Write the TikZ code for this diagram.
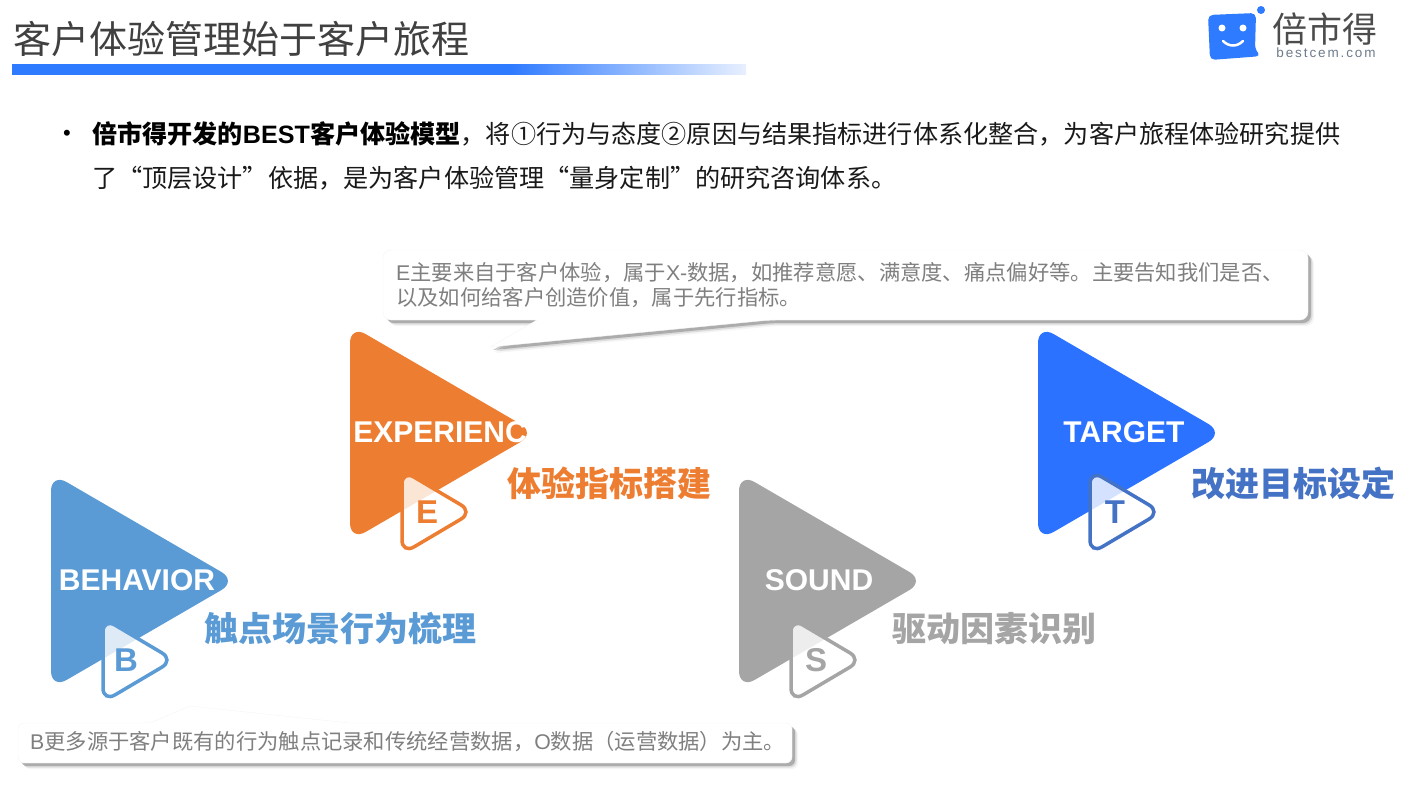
\documentclass[tikz,border=0pt]{standalone}
\usepackage{fontspec}
\usetikzlibrary{shadows}
\setmainfont{Liberation Sans}
\newfontfamily\cjk{Noto Sans CJK SC}
\newfontfamily\latn{Liberation Sans}
\newfontfamily\dotcom[LetterSpace=14]{Liberation Sans}
\definecolor{barblue}{HTML}{2F7BFF}
\definecolor{barpale}{HTML}{E8F0FF}
\definecolor{behavior}{HTML}{5B9BD5}
\definecolor{experience}{HTML}{ED7D31}
\definecolor{sound}{HTML}{A5A5A5}
\definecolor{target}{HTML}{2A72FF}
\definecolor{targetdark}{HTML}{4472C4}
\definecolor{note}{HTML}{7F7F7F}
\definecolor{logogray}{HTML}{6E7B8B}
\pgfdeclarehorizontalshading{barfade}{100bp}{color(0bp)=(barblue); color(59bp)=(barblue); color(75bp)=(barpale); color(100bp)=(barpale)}
\tikzset{
	title/.style={anchor=base west, inner sep=0, text=black!75, font=\fontsize{38}{38}\selectfont\cjk},
	body/.style={anchor=base west, inner sep=0, text=black!90, font=\fontsize{25.13}{30}\selectfont\cjk},
	notetext/.style={anchor=base west, inner sep=0, text=note, font=\fontsize{21.3}{25}\selectfont\cjk},
	callout/.style={fill=white, draw=black!4,
		drop shadow={shadow xshift=6pt, shadow yshift=-6pt, fill=black, opacity=.04},
		drop shadow={shadow xshift=4.5pt, shadow yshift=-4.5pt, fill=black, opacity=.10},
		drop shadow={shadow xshift=3pt, shadow yshift=-3pt, fill=black, opacity=.22}},
	word/.style={inner sep=0, text=white, font=\fontsize{30}{30}\selectfont\latn\bfseries},
	letter/.style={inner sep=0, font=\fontsize{33}{33}\selectfont\latn\bfseries},
	label/.style={anchor=base west, inner sep=0, font=\fontsize{34}{34}\selectfont\cjk\bfseries}
}
\begin{document}
\begin{tikzpicture}[x=1pt,y=-1pt]
\useasboundingbox (0,0) rectangle (1402,788);
% header
\node[title] (heading) at (13,53) {客户体验管理始于客户旅程};
\shade[shading=barfade] (12,64) rectangle (746,74);
% logo
\fill[barblue, rounded corners=5] (1208,15) -- (1256,13) -- (1255,50) -- (1261,56) -- (1250,57) -- (1210,60) -- cycle;
\fill[barblue] (1261,10) circle (4);
\fill[white] (1222,28) circle (3.5) (1243,28) circle (3.5);
\draw[white, line width=2.5, line cap=round] (1223,41) .. controls (1229,47) and (1237,47) .. (1243,41);
\node[inner sep=0, text=black!70, font=\fontsize{35}{35}\selectfont\cjk] (logoname) at (1324.5,29) {倍市得};
\node[inner sep=0, text=logogray, font=\fontsize{13.5}{13.5}\selectfont\dotcom] (logoweb) at (1326,53) {bestcem.com};
% bullet text
\node[inner sep=0, font=\fontsize{22}{30}\selectfont\latn] (dot) at (67,135.5) {•};
\node[body] (lineone) at (92,143.5) {{\bfseries\textcolor{black}{倍市得开发的{\latn BEST}客户体验模型}}，将①行为与态度②原因与结果指标进行体系化整合，为客户旅程体验研究提供};
\node[body] (linetwo) at (92,187.5) {了“顶层设计”依据，是为客户体验管理“量身定制”的研究咨询体系。};
% callouts
\path[callout, rounded corners=8] (383,250) -- (1308,250) -- (1308,320) -- (770,320) [sharp corners] -- (490,347) -- (537,320) [rounded corners=8] -- (383,320) -- cycle;
\path[callout, rounded corners=6] (18,723) -- (150,723) [sharp corners] -- (190,706) -- (350,723) [rounded corners=6] -- (792,723) -- (792,763) -- (18,763) -- cycle;
\node[notetext] (enoteone) at (396,280) {{\latn E}主要来自于客户体验，属于{\latn X-}数据，如推荐意愿、满意度、痛点偏好等。主要告知我们是否、};
\node[notetext] (enotetwo) at (396,305) {以及如何给客户创造价值，属于先行指标。};
\node[notetext] (bnote) at (30,749) {{\latn B}更多源于客户既有的行为触点记录和传统经营数据，{\latn O}数据（运营数据）为主。};
% triangles
\foreach \x/\y/\col/\dark/\name/\wx/\ltr/\tx/\lx/\ly/\txt in {
	51/581/behavior/behavior/BEHAVIOR/86/B/75/204/641/触点场景行为梳理,
	350/433/experience/experience/EXPERIENC/90/E/77/507/496/体验指标搭建,
	739/581/sound/sound/SOUND/80/S/77/892/641/驱动因素识别,
	1038/433/target/targetdark/TARGET/86/T/77/1191/496/改进目标设定} {
	\fill[\col, rounded corners=18] (\x,\y-108) -- (\x+186,\y) -- (\x,\y+108) -- cycle;
	\filldraw[draw=\dark, fill=white, fill opacity=.8, line width=3.5, rounded corners=14] (\x+52,\y+79-42) -- (\x+123,\y+79) -- (\x+52,\y+79+42) -- cycle;
	\node[word] (word\ltr) at (\x+\wx,\y-1) {\name};
	\node[letter, text=\dark] (letter\ltr) at (\x+\tx,\y+79) {\ltr};
	\node[label, text=\dark] (label\ltr) at (\lx,\ly) {\txt};
	};
\end{tikzpicture}
\end{document}
